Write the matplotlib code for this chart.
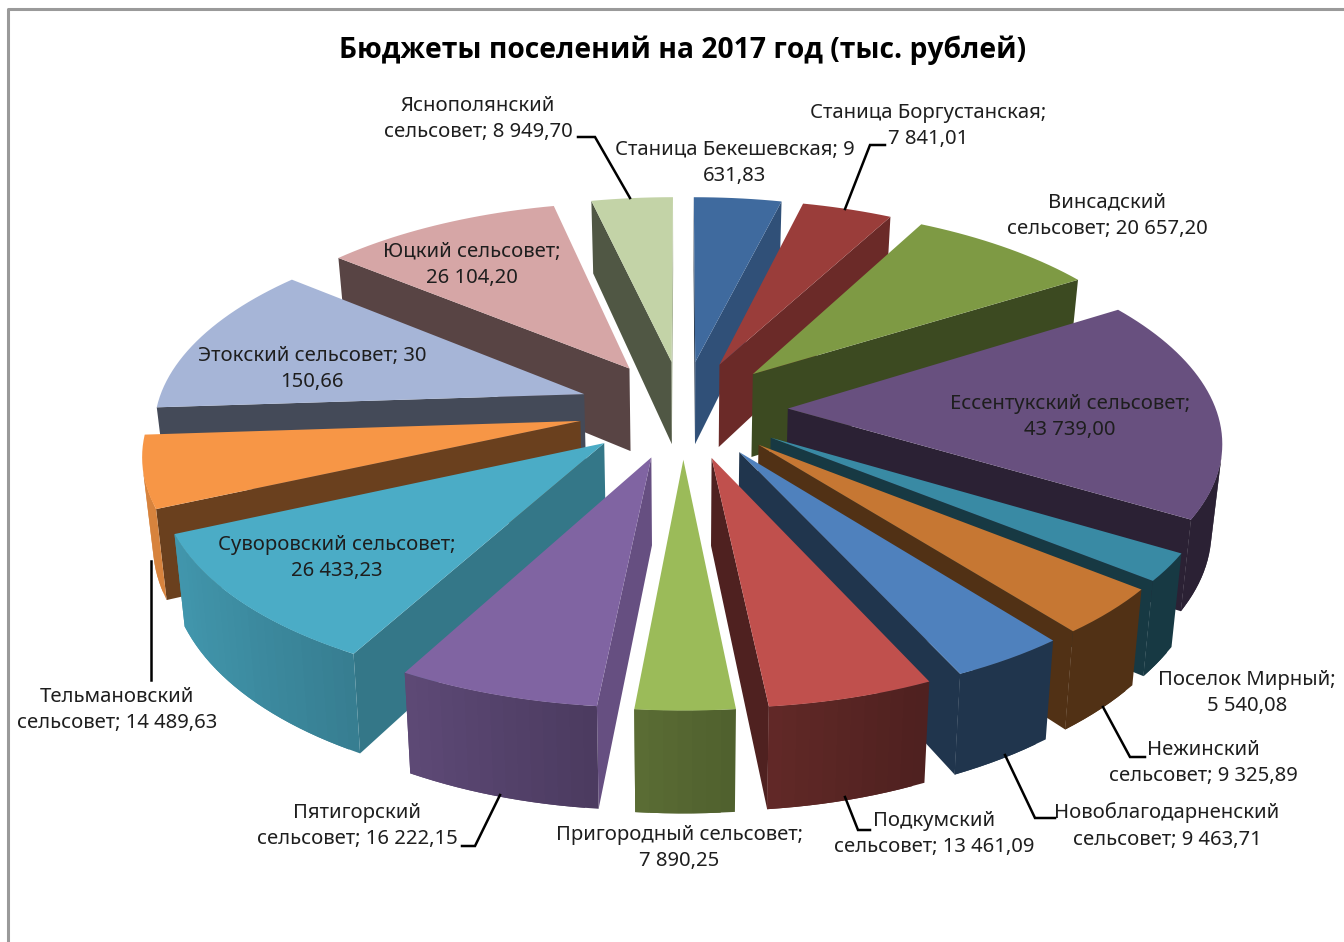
import numpy as np
import matplotlib
matplotlib.use('Agg')
import matplotlib.pyplot as plt
from matplotlib.patches import Polygon

plt.rcParams['font.family'] = ['Noto Sans', 'DejaVu Sans']

title = 'Бюджеты поселений на 2017 год (тыс. рублей)'

# clockwise from 12 o'clock
values = [9631.83, 7841.01, 20657.20, 43739.00, 5540.08, 9325.89, 9463.71, 13461.09,
          7890.25, 16222.15, 26433.23, 14489.63, 30150.66, 26104.20, 8949.70]
labels = ['Станица Бекешевская; 9\n631,83',
          'Станица Боргустанская;\n7 841,01',
          'Винсадский\nсельсовет; 20 657,20',
          'Ессентукский сельсовет;\n43 739,00',
          'Поселок Мирный;\n5 540,08',
          'Нежинский\nсельсовет; 9 325,89',
          'Новоблагодарненский\nсельсовет; 9 463,71',
          'Подкумский\nсельсовет; 13 461,09',
          'Пригородный сельсовет;\n7 890,25',
          'Пятигорский\nсельсовет; 16 222,15',
          'Суворовский сельсовет;\n26 433,23',
          'Тельмановский\nсельсовет; 14 489,63',
          'Этокский сельсовет; 30\n150,66',
          'Юцкий сельсовет;\n26 104,20',
          'Яснополянский\nсельсовет; 8 949,70']
colors = ['#3F6A9E', '#9A3D3A', '#7E9A44', '#68507F', '#398AA4', '#C67733', '#4F81BD', '#C0504D',
          '#9BBB59', '#8064A2', '#4BACC6', '#F79646', '#A6B5D7', '#D6A6A6', '#C3D3A7']

# label centres, pixels
label_x = [735, 928, 1107, 1070, 1247, 1203, 1167, 934, 679, 357, 337, 117, 312, 472, 478]
label_y = [163, 126, 216, 417, 693, 763, 826, 834, 848, 826, 558, 710, 369, 265, 119]

# leader lines, pixels
leaders = [([578, 595, 630], [137, 137, 198]),
           ([885, 870, 845], [145, 145, 209]),
           ([151, 151], [680, 561]),
           ([462, 475, 500], [846, 846, 795]),
           ([870, 858, 845], [830, 830, 797]),
           ([1055, 1035, 1005], [818, 818, 755]),
           ([1145, 1130, 1103], [757, 757, 707])]

cx, cy = 683, 409
a, b = 428, 200
persp = 0.14
explode = 0.245
depth = 85

# excel's 3d view does not keep angles even, degrees of drift by angle
warp_at = [0, 14, 25, 55, 118, 172, 184, 207, 245, 270, 360]
warp_by = [0, 0, 3, 3, 3.1, 1.8, 1.7, 1.4, 0.7, 0, 0]


def project(x, v, z=0.0):
    s = 1 / (1 - persp * v)
    return cx + a * x * s * (1 - 0.02 * z), cy + b * v * s + depth * s * z


def shade(color, f):
    return tuple(c * f for c in matplotlib.colors.to_rgb(color))


def rim_shade(t):
    return np.interp(np.sin(t), [-1, -0.9, -0.45, 0.13, 0.4, 1], [0.87, 0.87, 0.72, 0.5, 0.41, 0.41])


def side_shade(n):
    return np.interp(np.degrees(n) % 360, [94, 117, 145, 155, 176], [0.8, 0.7, 0.5, 0.43, 0.41])


def signed_area(pts):
    x, y = np.array(pts).T
    return 0.5 * np.sum(x * np.roll(y, -1) - np.roll(x, -1) * y)


def draw_slice(ax, t0, t1, color):
    mid = (t0 + t1) / 2
    ox, ov = explode * np.sin(mid), -explode * np.cos(mid)
    ts = np.linspace(t0, t1, max(int(np.degrees(t1 - t0) / 1.5), 2) + 1)
    xs, vs = ox + np.sin(ts), ov - np.cos(ts)

    # radial walls
    for t, n, xe, ve in [(t0, t0 - np.pi / 2, xs[0], vs[0]), (t1, t1 + np.pi / 2, xs[-1], vs[-1])]:
        pts = [project(ox, ov), project(xe, ve), project(xe, ve, 1), project(ox, ov, 1)]
        facing = signed_area(pts) < 0 if t == t0 else signed_area(pts) > 0
        if facing:
            ax.add_patch(Polygon(pts, closed=True, fc=shade(color, side_shade(n)), ec='none'))

    # outer rim, front part only. each piece runs under the next one so no seams show
    for i in range(len(ts) - 1):
        j = min(i + 2, len(ts) - 1)
        pts = [project(xs[i], vs[i]), project(xs[j], vs[j]),
               project(xs[j], vs[j], 1), project(xs[i], vs[i], 1)]
        if signed_area(pts) < 0:
            tm = (ts[i] + ts[i + 1]) / 2
            ax.add_patch(Polygon(pts, closed=True, fc=shade(color, rim_shade(tm)), ec='none'))

    top = [project(ox, ov)] + [project(x, v) for x, v in zip(xs, vs)]
    ax.add_patch(Polygon(top, closed=True, fc=color, ec='none'))


fig = plt.figure(figsize=(13.44, 9.42), dpi=100)
ax = fig.add_axes([0, 0, 1, 1])
ax.set_xlim(0, 1344)
ax.set_ylim(942, 0)
ax.axis('off')

# chart frame
ax.plot([8, 8, 1344], [942, 9, 9], color='#9A9A9A', lw=2.2)

edges = 360 * np.cumsum([0] + values) / np.sum(values)
edges = np.radians(edges + np.interp(edges, warp_at, warp_by))
order = sorted(range(len(values)), key=lambda i: -np.cos((edges[i] + edges[i + 1]) / 2))
for i in order:
    draw_slice(ax, edges[i], edges[i + 1], colors[i])

for lx, ly in leaders:
    ax.plot(lx, ly, color='black', lw=1.8, solid_joinstyle='miter')

for text, x, y in zip(labels, label_x, label_y):
    ax.text(x, y, text, ha='center', va='center', fontsize=14.6, color='#1E1E1E', linespacing=1.42)

ax.text(683, 50, title, ha='center', va='center', fontsize=20.35, fontweight='bold',
        family=['Open Sans', 'DejaVu Sans'], color='black')

plt.savefig('out.png', dpi=100)
